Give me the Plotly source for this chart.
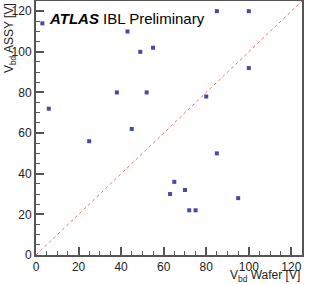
import plotly.graph_objects as go

wafer = [3, 6, 25, 38, 43, 45, 49, 52, 55, 63, 65, 70, 72, 75, 80, 85, 85, 95, 100, 100]
assy = [114, 72, 56, 80, 110, 62, 100, 80, 102, 30, 36, 32, 22, 22, 78, 120, 50, 28, 120, 92]
diag = [0, 125]

fig = go.Figure()
fig.add_trace(go.Scatter(x=diag, y=diag, mode="lines",
                         line=dict(color="#f07070", width=1, dash="dot"),
                         hoverinfo="skip"))
fig.add_trace(go.Scatter(x=wafer, y=assy, mode="markers",
                         marker=dict(symbol="square", size=4, color="#4848a8")))

axis_common = dict(
    range=[0, 125], dtick=20, tick0=0, automargin=False,
    ticks="inside", ticklen=8, tickwidth=1.5, tickcolor="#555",
    showline=True, linecolor="#555", linewidth=2, mirror=True,
    showgrid=False, zeroline=False,
    tickfont=dict(family="Liberation Sans Narrow, Liberation Sans, Arial, sans-serif", size=12, color="#222"),
    minor=dict(dtick=5, ticks="inside", ticklen=4, tickcolor="#555", tickwidth=1, showgrid=False),
)
fig.update_xaxes(**axis_common)
fig.update_yaxes(**axis_common)

fig.update_layout(
    width=318, height=284,
    margin=dict(l=36, r=16, t=1, b=29, autoexpand=False),
    paper_bgcolor="white", plot_bgcolor="white",
    showlegend=False,
    font=dict(family="Liberation Sans, Arial, sans-serif", color="#222"),
    annotations=[
        dict(text="<b><i>ATLAS</i></b> IBL Preliminary", xref="paper", yref="paper",
             x=0.041, y=0.972, xanchor="left", yanchor="top", showarrow=False,
             font=dict(size=15, color="black")),
        dict(text="V<sub>bd</sub> Wafer [V]", xref="paper", yref="paper",
             x=1.0, y=-0.112, xanchor="right", yanchor="bottom", showarrow=False,
             yshift=-3, font=dict(size=12, color="#222")),
        dict(text="V<sub>bd</sub> ASSY [V]", xref="paper", yref="paper",
             x=-0.135, y=1.0, xanchor="left", yanchor="top", showarrow=False,
             textangle=-90, font=dict(size=12, color="#222")),
    ],
)

fig.write_html("out.html", config={"displayModeBar": False},
               post_script="document.body.style.margin='0';")
